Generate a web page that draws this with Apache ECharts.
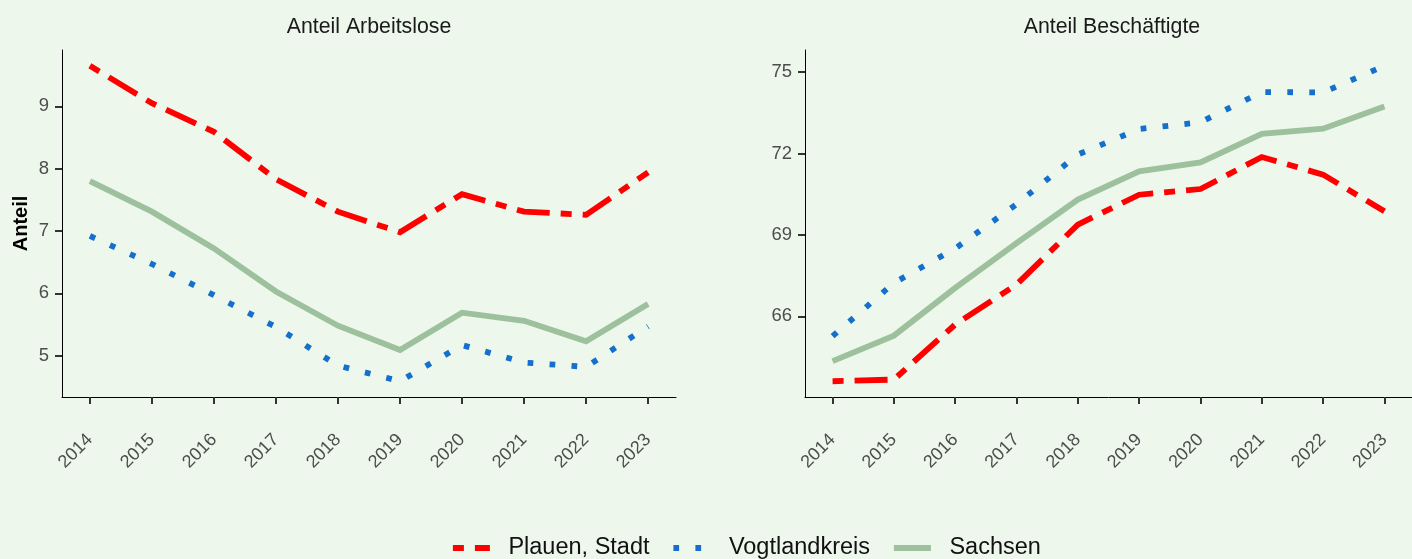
<!DOCTYPE html>
<html>
<head>
<meta charset="utf-8">
<script src="https://cdn.jsdelivr.net/npm/echarts@6/dist/echarts.min.js"></script>
<style>
  html, body { margin: 0; padding: 0; background: #EDF7EC; }
  #chart { width: 1412px; height: 559px; }
</style>
</head>
<body>
<div id="chart"></div>
<script>
// ---- data ----
const years = [2014, 2015, 2016, 2017, 2018, 2019, 2020, 2021, 2022, 2023];
const seriesNames = ['Plauen, Stadt', 'Vogtlandkreis', 'Sachsen'];
const panelTitles = ['Anteil Arbeitslose', 'Anteil Beschäftigte'];
// Anteil Arbeitslose
const arbPlauen   = [9.65, 9.05, 8.59, 7.83, 7.31, 6.98, 7.59, 7.31, 7.26, 7.94];
const arbVogt     = [6.92, 6.47, 5.97, 5.46, 4.84, 4.59, 5.17, 4.89, 4.82, 5.47];
const arbSachsen  = [7.80, 7.31, 6.72, 6.03, 5.48, 5.09, 5.69, 5.56, 5.23, 5.83];
// Anteil Beschäftigte
const besPlauen   = [63.61, 63.67, 65.70, 67.17, 69.38, 70.48, 70.69, 71.87, 71.22, 69.87];
const besVogt     = [65.27, 67.23, 68.50, 70.13, 71.96, 72.90, 73.15, 74.26, 74.25, 75.23];
const besSachsen  = [64.35, 65.29, 67.05, 68.70, 70.30, 71.34, 71.67, 72.72, 72.91, 73.73];
// tick labels
const yTicksLeft  = [5, 6, 7, 8, 9];
const yTicksRight = [66, 69, 72, 75];

// ---- helpers ----
function expand(arrs) {
  const all = [].concat(...arrs);
  const mn = Math.min(...all), mx = Math.max(...all);
  const pad = (mx - mn) * 0.05;
  return [mn - pad, mx + pad];
}
const xPad = (years[years.length - 1] - years[0]) * 0.05;
const xMin = years[0] - xPad, xMax = years[years.length - 1] + xPad;
const leftRange = expand([arbPlauen, arbVogt, arbSachsen]);
const rightRange = expand([besPlauen, besVogt, besSachsen]);

const colors = ['#FF0000', '#1470CC', '#9DC09D'];
const lineTypes = [[11, 11, 33, 11], [5.7, 16.3], 'solid'];
const LW = 5.8;
const FONT = 'Liberation Sans, Arial, sans-serif';

const gridTop = 50, gridH = 347, gridW = 614;
const grids = [
  { left: 62, top: gridTop, width: gridW, height: gridH },
  { left: 805, top: gridTop, width: gridW, height: gridH }
];

function xAxisDef(idx) {
  return {
    type: 'value', gridIndex: idx, min: xMin, max: xMax,
    axisLine: { show: true, onZero: false, lineStyle: { color: '#000', width: 1 } },
    axisTick: { show: true, length: 7, customValues: years, lineStyle: { color: '#333', width: 2 } },
    axisLabel: { customValues: years, rotate: 45, margin: 40, fontSize: 18, color: '#4D4D4D',
                 fontFamily: FONT, formatter: v => String(v) },
    splitLine: { show: false }
  };
}
function yAxisDef(idx, range, ticks, name) {
  return {
    type: 'value', gridIndex: idx, min: range[0], max: range[1],
    name: name || '', nameLocation: 'middle', nameRotate: 90, nameGap: 31,
    nameTextStyle: { fontSize: 20, fontWeight: 'bold', color: '#000', fontFamily: FONT },
    axisLine: { show: true, lineStyle: { color: '#000', width: 1 } },
    axisTick: { show: true, length: 7, customValues: ticks, lineStyle: { color: '#333', width: 2 } },
    axisLabel: { customValues: ticks, margin: 13, fontSize: 18.5, color: '#4D4D4D',
                 fontFamily: FONT, formatter: v => String(v) },
    splitLine: { show: false }
  };
}

function mkSeries(name, idx, vals, k) {
  return {
    name: name, type: 'line', xAxisIndex: idx, yAxisIndex: idx,
    data: years.map((y, i) => [y, vals[i]]),
    symbol: 'none', showSymbol: false, smooth: false,
    lineStyle: { color: colors[k], width: LW, type: lineTypes[k], cap: 'butt', join: 'miter' },
    itemStyle: { color: colors[k] },
    emphasis: { disabled: true },
    animation: false
  };
}

const series = [
  mkSeries(seriesNames[0], 0, arbPlauen, 0),
  mkSeries(seriesNames[1], 0, arbVogt, 1),
  mkSeries(seriesNames[2], 0, arbSachsen, 2),
  mkSeries(seriesNames[0], 1, besPlauen, 0),
  mkSeries(seriesNames[1], 1, besVogt, 1),
  mkSeries(seriesNames[2], 1, besSachsen, 2)
];

const chart = echarts.init(document.getElementById('chart'), null, { renderer: 'canvas' });
chart.setOption({
  backgroundColor: '#EDF7EC',
  animation: false,
  grid: grids,
  xAxis: [xAxisDef(0), xAxisDef(1)],
  yAxis: [yAxisDef(0, leftRange, yTicksLeft, 'Anteil'), yAxisDef(1, rightRange, yTicksRight, '')],
  legend: {
    data: seriesNames,
    left: 450, top: 536, padding: 0,
    itemWidth: 37, itemHeight: 14, itemGap: 21,
    lineStyle: { width: LW },
    itemStyle: { opacity: 0, borderWidth: 0 },
    textStyle: { fontSize: 23.5, color: '#111', fontFamily: FONT, padding: [0, 0, 0, 13.5] },
    selectedMode: false
  },
  graphic: [
    { type: 'text', x: 62 + gridW / 2, y: 27,
      style: { text: panelTitles[0], fontSize: 21.3, fill: '#1A1A1A', fontFamily: FONT,
               align: 'center', verticalAlign: 'middle' } },
    { type: 'text', x: 805 + gridW / 2, y: 27,
      style: { text: panelTitles[1], fontSize: 21.3, fill: '#1A1A1A', fontFamily: FONT,
               align: 'center', verticalAlign: 'middle' } }
  ],
  series: series
});
</script>
</body>
</html>
